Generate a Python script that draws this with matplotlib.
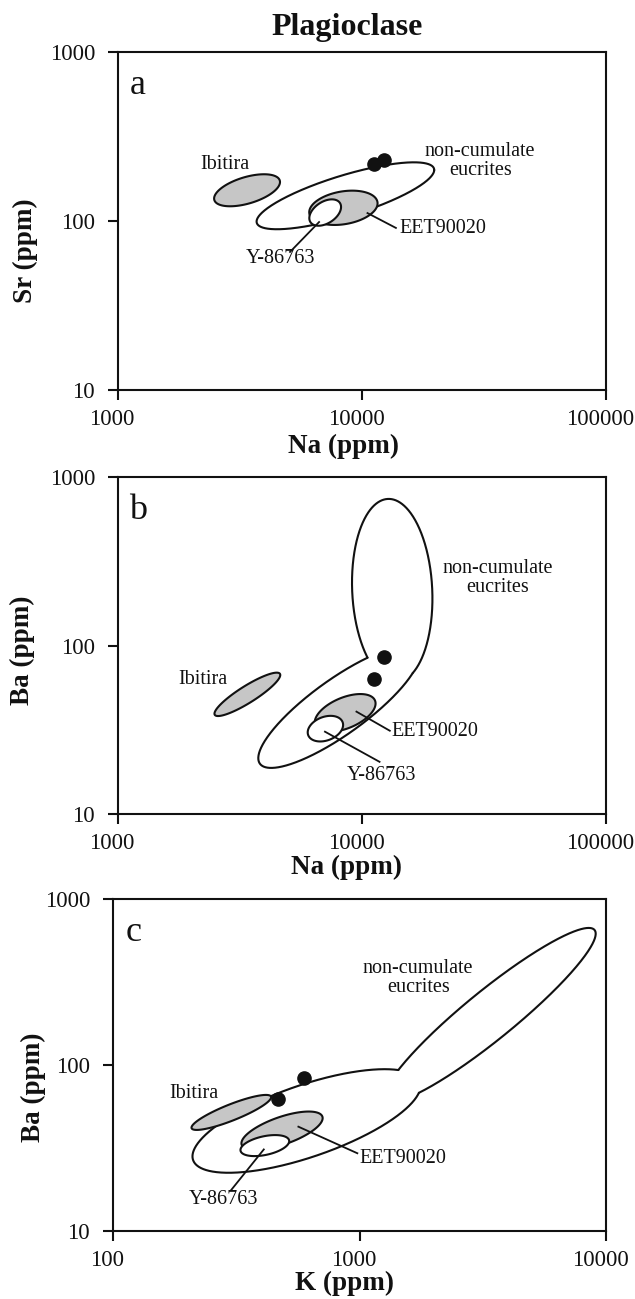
import numpy as np
import matplotlib
matplotlib.use("Agg")
import matplotlib.pyplot as plt
from matplotlib.ticker import NullLocator
from matplotlib.transforms import ScaledTranslation

plt.rcParams['font.family'] = ['Liberation Serif', 'DejaVu Serif']

# Compositional fields in log10 space:
# (centre x ppm, centre y ppm, half-extent x [decades], half-extent y [decades], phase [deg])
# x = cx + hx*cos(t), y = cy + hy*cos(t - phase)

# Panel a: Sr vs Na
a_noncum = [(8550, 141, 0.364, 0.198, 39.6)]
a_ibitira = (3380, 152, 0.135, 0.0947, 59)
a_eet = (8390, 119.7, 0.140, 0.1015, 75)
a_y86763 = (7065, 112.2, 0.065, 0.078, 65)
a_na = [11150, 12280]
a_sr = [217, 230]

# Panel b: Ba vs Na
b_noncum = [(13300, 212, 0.1648, 0.5436, 95), (8035, 43.2, 0.330, 0.362, 32.9)]
b_ibitira = (3390, 51.3, 0.1348, 0.1287, 27)
b_eet = (8530, 39.8, 0.1246, 0.112, 60)
b_y86763 = (7080, 32.1, 0.0725, 0.076, 73)
b_na = [11150, 12270]
b_ba = [63, 86]

# Panel c: Ba vs K
c_noncum = [(610, 46.0, 0.4629, 0.312, 46.9), (3384, 200, 0.4288, 0.5247, 21.0)]
c_ibitira = (302, 51.8, 0.1615, 0.1054, 29.7)
c_eet = (485, 40.2, 0.1647, 0.1154, 49)
c_y86763 = (413, 32.7, 0.0988, 0.0633, 65)
c_k = [469, 594]
c_ba = [62, 84]

na_ticks = [1000, 10000, 100000]
k_ticks = [100, 1000, 10000]
y_ticks = [10, 100, 1000]

LW = 1.5
GREY = '#c6c6c6'
INK = '#111111'
T = np.linspace(0, 2 * np.pi, 2881)


def field_xy(f):
    cx, cy, hx, hy, ph = f
    ph = np.radians(ph)
    lx = np.log10(cx) + hx * np.cos(T)
    ly = np.log10(cy) + hy * np.cos(T - ph)
    return lx, ly


def inside(f, lx, ly):
    cx, cy, hx, hy, ph = f
    ph = np.radians(ph)
    u = (lx - np.log10(cx)) / hx
    v = (ly - np.log10(cy)) / hy
    s = (v - u * np.cos(ph)) / np.sin(ph)
    return u ** 2 + s ** 2 < 1


def draw_union(ax, fields):
    """Outline of the union of several fields (only the outer boundary)."""
    for i, f in enumerate(fields):
        lx, ly = field_xy(f)
        mask = np.zeros_like(lx, dtype=bool)
        for j, g in enumerate(fields):
            if j != i:
                mask |= inside(g, lx, ly)
        if mask.any():
            k = int(np.argmax(mask))
            lx, ly, mask = np.roll(lx, -k), np.roll(ly, -k), np.roll(mask, -k)
        lx = np.where(mask, np.nan, lx)
        ly = np.where(mask, np.nan, ly)
        ax.plot(10 ** lx, 10 ** ly, color=INK, lw=LW, zorder=2,
                solid_capstyle='round', solid_joinstyle='round')


def draw_field(ax, f, face, z):
    lx, ly = field_xy(f)
    ax.fill(10 ** lx, 10 ** ly, facecolor=face, edgecolor=INK, lw=LW, zorder=z)


def style_axes(ax, xticks, yticks, xlabel, ylabel, letter, xl_pos, yl_pos):
    ax.set_xscale('log')
    ax.set_yscale('log')
    ax.set_xlim(xticks[0], xticks[-1])
    ax.set_ylim(yticks[0], yticks[-1])
    ax.set_xticks(xticks)
    ax.set_xticklabels([str(t) for t in xticks])
    ax.set_yticks(yticks)
    ax.set_yticklabels([str(t) for t in yticks])
    ax.xaxis.set_minor_locator(NullLocator())
    ax.yaxis.set_minor_locator(NullLocator())
    ax.tick_params(axis='both', direction='out', length=7.5, width=LW,
                   labelsize=16.5, colors=INK)
    ax.tick_params(axis='x', pad=6)
    ax.tick_params(axis='y', pad=9)
    for sp in ax.spines.values():
        sp.set_linewidth(LW)
        sp.set_color(INK)
    shift = ScaledTranslation(-6 / 100, 0, ax.figure.dpi_scale_trans)
    for lab in ax.get_xticklabels():
        lab.set_transform(lab.get_transform() + shift)
    ax.text(xl_pos[0], xl_pos[1], xlabel, transform=ax.transAxes,
            ha='center', va='center', fontsize=19.5, fontweight='bold', color=INK)
    ax.text(yl_pos[0], yl_pos[1], ylabel, transform=ax.transAxes, rotation=90,
            ha='center', va='center', fontsize=19.5, fontweight='bold', color=INK)
    ax.text(0.041, 0.90, letter, transform=ax.transAxes, ha='center',
            va='center', fontsize=26, color=INK)


def annotate(ax, text, xy, ha='center'):
    ax.text(xy[0], xy[1], text, ha=ha, va='center', fontsize=14.5,
            color=INK, zorder=6, linespacing=1.0)


def leader(ax, p0, p1):
    ax.plot([p0[0], p1[0]], [p0[1], p1[1]], color=INK, lw=1.3, zorder=6)


fig = plt.figure(figsize=(6.35, 12.99), dpi=100)
fig.patch.set_facecolor('white')

axA = fig.add_axes([118 / 635, 1 - 390 / 1299, 488 / 635, 338 / 1299])
axB = fig.add_axes([118 / 635, 1 - 814 / 1299, 488 / 635, 337 / 1299])
axC = fig.add_axes([113 / 635, 1 - 1231 / 1299, 493 / 635, 332 / 1299])

fig.text(347 / 635, 1 - 28 / 1299, 'Plagioclase', ha='center', va='center',
         fontsize=23, fontweight='bold', color=INK)

# ---- panel a ----
draw_union(axA, a_noncum)
draw_field(axA, a_ibitira, GREY, 3)
draw_field(axA, a_eet, GREY, 3)
draw_field(axA, a_y86763, 'white', 4)
axA.plot(a_na, a_sr, 'o', color=INK, ms=9.5, zorder=7)
annotate(axA, 'Ibitira', (2748, 217))
annotate(axA, 'non-cumulate\neucrites', (30500, 228))
leader(axA, (10530, 111.4), (13770, 91))
annotate(axA, 'EET90020', (14190, 89.8), ha='left')
leader(axA, (6670, 98.6), (5070, 65.6))
annotate(axA, 'Y-86763', (4613, 59.6))
style_axes(axA, na_ticks, y_ticks, 'Na (ppm)', 'Sr (ppm)', 'a',
           (0.462, -0.166), (-0.189, 0.411))

# ---- panel b ----
draw_union(axB, b_noncum)
draw_field(axB, b_ibitira, GREY, 3)
draw_field(axB, b_eet, GREY, 3)
draw_field(axB, b_y86763, 'white', 4)
axB.plot(b_na, b_ba, 'o', color=INK, ms=9.5, zorder=7)
annotate(axB, 'Ibitira', (2230, 63))
annotate(axB, 'non-cumulate\neucrites', (35900, 250))
leader(axB, (9490, 40.5), (13000, 31.2))
annotate(axB, 'EET90020', (13250, 30.8), ha='left')
leader(axB, (7050, 30.8), (11800, 20.4))
annotate(axB, 'Y-86763', (12020, 17.0))
style_axes(axB, na_ticks, y_ticks, 'Na (ppm)', 'Ba (ppm)', 'b',
           (0.469, -0.16), (-0.195, 0.487))

# ---- panel c ----
draw_union(axC, c_noncum)
draw_field(axC, c_ibitira, GREY, 3)
draw_field(axC, c_eet, GREY, 3)
draw_field(axC, c_y86763, 'white', 4)
axC.plot(c_k, c_ba, 'o', color=INK, ms=9.5, zorder=7)
annotate(axC, 'Ibitira', (213, 67.6))
annotate(axC, 'non-cumulate\neucrites', (1730, 333))
leader(axC, (565, 42.5), (980, 29.4))
annotate(axC, 'EET90020', (998, 27.4), ha='left')
leader(axC, (409, 31.0), (302, 17.7))
annotate(axC, 'Y-86763', (280, 15.4))
style_axes(axC, k_ticks, y_ticks, 'K (ppm)', 'Ba (ppm)', 'c',
           (0.47, -0.157), (-0.162, 0.434))

fig.savefig('out.png', dpi=100, facecolor='white')
